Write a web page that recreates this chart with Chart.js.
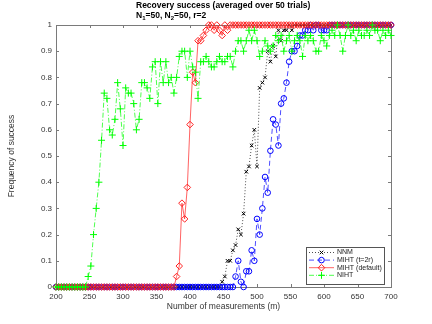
<!DOCTYPE html>
<html>
<head>
<meta charset="utf-8">
<script src="https://cdn.jsdelivr.net/npm/chart.js@4.4.0/dist/chart.umd.min.js"></script>
<style>
  html, body { margin: 0; padding: 0; background: #fff; }
  canvas { display: block; }
</style>
</head>
<body>
<canvas id="chart" width="432" height="324"></canvas>
<script>
// data
const measurements = [
  200, 204, 208, 212, 216, 220, 224, 228, 232, 236, 240, 244,
  248, 252, 256, 260, 264, 268, 272, 276, 280, 284, 288, 292,
  296, 300, 304, 308, 312, 316, 320, 324, 328, 332, 336, 340,
  344, 348, 352, 356, 360, 364, 368, 372, 376, 380, 384, 388,
  392, 396, 400, 404, 408, 412, 416, 420, 424, 428, 432, 436,
  440, 444, 448, 452, 456, 460, 464, 468, 472, 476, 480, 484,
  488, 492, 496, 500, 504, 508, 512, 516, 520, 524, 528, 532,
  536, 540, 544, 548, 552, 556, 560, 564, 568, 572, 576, 580,
  584, 588, 592, 596, 600, 604, 608, 612, 616, 620, 624, 628,
  632, 636, 640, 644, 648, 652, 656, 660, 664, 668, 672, 676,
  680, 684, 688, 692, 696, 700
];

const nnm = [
  0, 0, 0, 0, 0, 0, 0, 0, 0, 0, 0, 0,
  0, 0, 0, 0, 0, 0, 0, 0, 0, 0, 0, 0,
  0, 0, 0, 0, 0, 0, 0, 0, 0, 0, 0, 0,
  0, 0, 0, 0, 0, 0, 0, 0, 0, 0, 0, 0,
  0, 0, 0, 0, 0, 0, 0, 0, 0, 0, 0, 0,
  0, 0, 0.02, 0.04, 0.10, 0.10, 0.14, 0.16, 0.22, 0.20, 0.28, 0.44,
  0.46, 0.54, 0.60, 0.46, 0.76, 0.78, 0.80, 0.90, 0.86, 0.92, 0.88, 0.98,
  0.94, 0.98, 0.98, 1, 0.98, 1, 1, 1, 1, 1, 1, 1,
  1, 1, 1, 1, 1, 1, 1, 1, 1, 1, 1, 1,
  1, 1, 1, 1, 1, 1, 1, 1, 1, 1, 1, 1,
  1, 1, 1, 1, 1, 1
];

const mihtRank = [
  0, 0, 0, 0, 0, 0, 0, 0, 0, 0, 0, 0,
  0, 0, 0, 0, 0, 0, 0, 0, 0, 0, 0, 0,
  0, 0, 0, 0, 0, 0, 0, 0, 0, 0, 0, 0,
  0, 0, 0, 0, 0, 0, 0, 0, 0, 0, 0, 0,
  0, 0, 0, 0, 0, 0, 0, 0, 0, 0, 0, 0,
  0, 0, 0, 0, 0, 0, 0, 0.04, 0.10, 0.02, 0, 0.06,
  0.06, 0.14, 0.10, 0.26, 0.20, 0.30, 0.42, 0.36, 0.52, 0.64, 0.62, 0.54,
  0.70, 0.72, 0.78, 0.86, 0.90, 0.90, 0.92, 0.96, 0.96, 0.98, 0.98, 1,
  0.98, 1, 1, 0.98, 0.98, 0.98, 1, 1, 1, 1, 1, 1,
  1, 1, 1, 1, 1, 1, 1, 1, 1, 1, 1, 1,
  1, 1, 1, 1, 1, 1
];

const mihtDefault = [
  0, 0, 0, 0, 0, 0, 0, 0, 0, 0, 0, 0,
  0, 0, 0, 0, 0, 0, 0, 0, 0, 0, 0, 0,
  0, 0, 0, 0, 0, 0, 0, 0, 0, 0, 0, 0,
  0, 0, 0, 0, 0, 0, 0, 0, 0, 0.04, 0.08, 0.32,
  0.26, 0.38, 0.62, 0.82, 0.78, 0.94, 0.94, 0.96, 0.98, 1, 1, 0.98,
  1, 0.98, 0.96, 1, 0.98, 1, 1, 1, 1, 1, 1, 1,
  1, 1, 1, 1, 1, 1, 1, 1, 1, 1, 1, 1,
  1, 1, 1, 1, 1, 1, 1, 1, 1, 1, 1, 1,
  1, 1, 1, 1, 1, 1, 1, 1, 1, 1, 1, 1,
  1, 1, 1, 1, 1, 1, 1, 1, 1, 1, 1, 1,
  1, 1, 1, 1, 1, 1
];

const niht = [
  0, 0, 0, 0, 0, 0, 0, 0, 0, 0, 0, 0,
  0.04, 0.08, 0.20, 0.30, 0.40, 0.56, 0.74, 0.72, 0.60, 0.58, 0.64, 0.78,
  0.68, 0.54, 0.76, 0.74, 0.74, 0.70, 0.60, 0.64, 0.78, 0.78, 0.76, 0.72,
  0.84, 0.86, 0.70, 0.86, 0.78, 0.86, 0.78, 0.80, 0.74, 0.80, 0.88, 0.90,
  0.90, 0.80, 0.90, 0.84, 0.82, 0.72, 0.86, 0.86, 0.88, 0.86, 0.84, 0.84,
  0.86, 0.88, 0.86, 0.86, 0.88, 0.88, 0.84, 0.90, 0.94, 0.94, 0.90, 0.94,
  0.98, 0.94, 0.98, 0.94, 0.88, 0.90, 0.94, 0.92, 0.90, 0.92, 0.96, 0.94,
  0.96, 0.90, 0.94, 0.96, 0.90, 0.94, 0.96, 0.94, 0.88, 0.96, 0.94, 0.96,
  0.94, 0.90, 0.90, 0.96, 0.94, 0.92, 0.96, 0.98, 0.96, 1, 0.96, 0.90,
  0.96, 1, 0.96, 0.98, 0.94, 0.98, 0.96, 0.96, 0.98, 0.96, 1, 0.98,
  0.98, 0.94, 0.98, 0.96, 0.98, 0.96
];

const seriesNames = ['NNM', 'MIHT (t=2r)', 'MIHT (default)', 'NIHT'];
const titleLine1 = 'Recovery success (averaged over 50 trials)';
const xLabel = 'Number of measurements (m)';
const yLabel = 'Frequency of success';

const FONT = '"Liberation Sans", Arial, Helvetica, sans-serif';

// series styles
const styles = [
  {color: '#000000', dash: [1, 2], point: 'crossRot', radius: 2.5},
  {color: '#0000ff', dash: [5, 3], point: 'circle', radius: 2.8},
  {color: '#ff2020', dash: [], point: 'rectRot', radius: 3.3},
  {color: '#00ff00', dash: [5, 2, 1, 2], point: 'cross', radius: 3.5}
];
const values = [nnm, mihtRank, mihtDefault, niht];

const datasets = values.map((vals, k) => ({
  label: seriesNames[k],
  data: measurements.map((m, i) => ({x: m, y: vals[i]})),
  borderColor: styles[k].color,
  borderWidth: 0.7,
  borderDash: styles[k].dash,
  pointStyle: styles[k].point,
  pointRadius: styles[k].radius,
  pointBorderColor: styles[k].color,
  pointBackgroundColor: 'rgba(0,0,0,0)',
  pointBorderWidth: 1,
  fill: false,
  clip: false,
  order: 3 - k // NIHT on top, like the original
}));

// matlab-ish box with inward ticks
const boxPlugin = {
  id: 'box',
  beforeDatasetsDraw(chart) {
    const {ctx, chartArea: {left, top, right, bottom}, scales: {x, y}} = chart;
    ctx.save();
    ctx.strokeStyle = '#7a7a7a';
    ctx.lineWidth = 1;
    ctx.beginPath();
    x.ticks.forEach(t => {
      const px = Math.round(x.getPixelForValue(t.value)) + 0.5;
      ctx.moveTo(px, bottom); ctx.lineTo(px, bottom - 3);
      ctx.moveTo(px, top); ctx.lineTo(px, top + 3);
    });
    y.ticks.forEach(t => {
      const py = Math.round(y.getPixelForValue(t.value)) + 0.5;
      ctx.moveTo(left, py); ctx.lineTo(left + 3, py);
      ctx.moveTo(right, py); ctx.lineTo(right - 3, py);
    });
    ctx.stroke();
    ctx.strokeRect(Math.round(left) + 0.5, Math.round(top) + 0.5,
      Math.round(right - left), Math.round(bottom - top));
    ctx.restore();
  }
};

const titlePlugin = {
  id: 'twoLineTitle',
  afterDraw(chart) {
    const ctx = chart.ctx;
    const x0 = 136;
    ctx.save();
    ctx.fillStyle = '#000';
    ctx.textBaseline = 'middle';
    ctx.textAlign = 'left';
    ctx.font = 'bold 8.5px ' + FONT;
    ctx.fillText(titleLine1, x0, 6);
    // second line with subscripts
    const parts = [['N', 0], ['1', 1], ['=50, N', 0], ['2', 1], ['=50, r=2', 0]];
    let x = x0;
    parts.forEach(([txt, sub]) => {
      ctx.font = (sub ? 'bold 6px ' : 'bold 8.5px ') + FONT;
      ctx.fillText(txt, x, sub ? 18.5 : 16);
      x += ctx.measureText(txt).width;
    });
    ctx.restore();
  }
};

const legendPlugin = {
  id: 'boxLegend',
  afterDraw(chart) {
    const ctx = chart.ctx;
    const bx = 306, by = 247, bw = 78, bh = 37;
    ctx.save();
    ctx.fillStyle = '#fff';
    ctx.fillRect(bx, by, bw, bh);
    ctx.strokeStyle = '#555';
    ctx.lineWidth = 1;
    ctx.strokeRect(bx + 0.5, by + 0.5, bw, bh);
    ctx.font = '7px ' + FONT;
    ctx.textBaseline = 'middle';
    styles.forEach((s, k) => {
      const cy = by + 5.5 + k * 7.6;
      ctx.strokeStyle = s.color;
      ctx.lineWidth = 0.7;
      ctx.setLineDash(s.dash);
      ctx.beginPath();
      ctx.moveTo(bx + 3, cy);
      ctx.lineTo(bx + 28, cy);
      ctx.stroke();
      ctx.setLineDash([]);
      ctx.lineWidth = 1;
      ctx.fillStyle = 'rgba(0,0,0,0)';
      Chart.helpers.drawPoint(ctx, {pointStyle: s.point, radius: s.radius, rotation: 0, borderWidth: 1}, bx + 15.5, cy);
      ctx.fillStyle = '#222';
      ctx.fillText(seriesNames[k], bx + 31, cy);
    });
    ctx.restore();
  }
};

const ctx = document.getElementById('chart');
const chart = new Chart(ctx, {
  type: 'line',
  data: {datasets: datasets},
  options: {
    responsive: false,
    animation: false,
    devicePixelRatio: 1,
    layout: {padding: {left: 0, right: 41, top: 25, bottom: 0}},
    plugins: {legend: {display: false}, tooltip: {enabled: false}, title: {display: false}},
    scales: {
      x: {
        type: 'linear',
        min: 200,
        max: 700,
        grid: {display: false, drawTicks: false},
        border: {display: false},
        ticks: {stepSize: 50, padding: 5, color: '#333', font: {family: FONT, size: 8}, maxRotation: 0},
        title: {display: true, text: xLabel, color: '#333', font: {family: FONT, size: 8.5}, padding: {top: 0, bottom: 12}},
        afterFit(scale) { scale.height = 37; }
      },
      y: {
        min: 0,
        max: 1,
        grid: {display: false, drawTicks: false},
        border: {display: false},
        ticks: {stepSize: 0.1, padding: 4, color: '#333', font: {family: FONT, size: 8},
          callback: v => String(Math.round(v * 10) / 10)},
        title: {display: true, text: yLabel, color: '#333', font: {family: FONT, size: 8.5}, padding: {top: 7, bottom: 0}},
        afterFit(scale) { scale.width = 56; }
      }
    }
  },
  plugins: [boxPlugin, titlePlugin, legendPlugin]
});
</script>
</body>
</html>
